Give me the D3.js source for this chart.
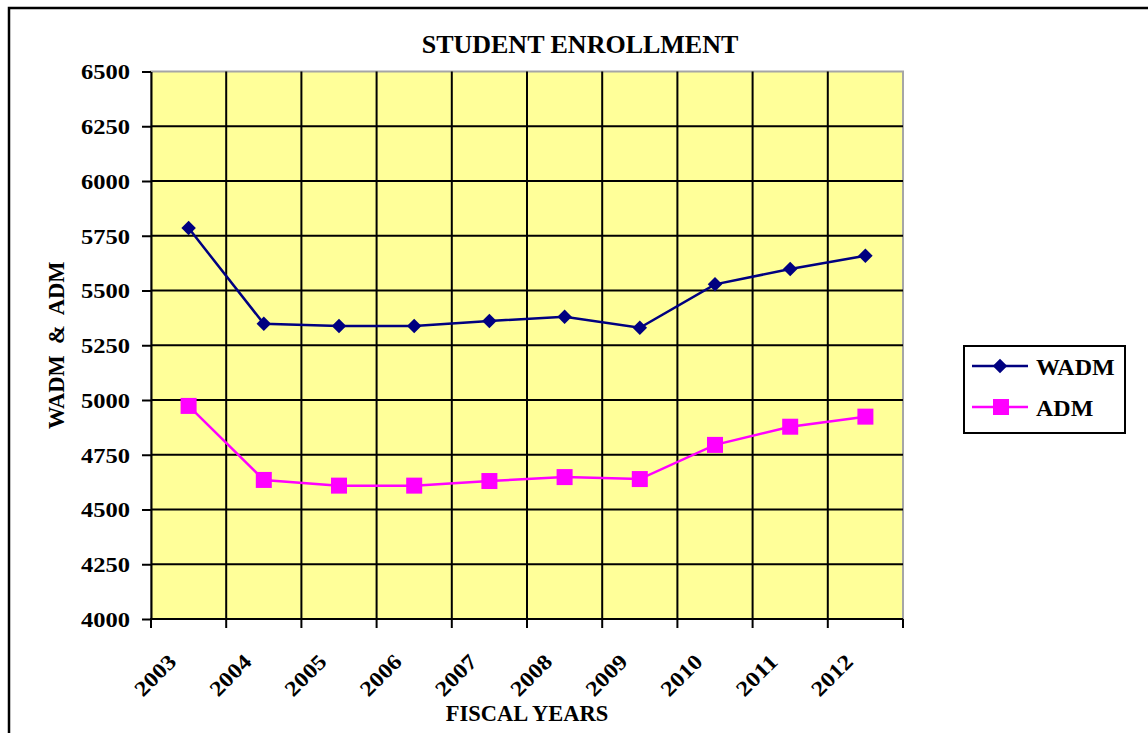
<!DOCTYPE html>
<html>
<head>
<meta charset="utf-8">
<script src="https://cdn.jsdelivr.net/npm/d3@7"></script>
<style>
	body { margin: 0; background: #fff; }
	svg { display: block; }
	text { font-family: "Liberation Serif", "Times New Roman", serif; font-weight: bold; fill: #000; }
</style>
</head>
<body>
<svg id="vis" width="1148" height="733"></svg>
<script>
var YEARS = ["2003", "2004", "2005", "2006", "2007", "2008", "2009", "2010", "2011", "2012"];
var WADM = [5785, 5348, 5338, 5338, 5361, 5380, 5330, 5528, 5598, 5659];
var ADM = [4973, 4635, 4609, 4609, 4630, 4648, 4639, 4795, 4878, 4924];
var Y_TICKS = [4000, 4250, 4500, 4750, 5000, 5250, 5500, 5750, 6000, 6250, 6500];

function whenDocumentLoaded(action) {
	if (document.readyState === "loading") {
		document.addEventListener("DOMContentLoaded", action);
	} else {
		action();
	}
}

whenDocumentLoaded(() => {
	var svg = d3.select("#vis");
	var left = 151, right = 903, top = 71.5, bottom = 619;

	var x = d3.scaleBand().domain(YEARS).range([left, right]).padding(0);
	var y = d3.scaleLinear().domain([4000, 6500]).range([bottom, top]);
	var cx = d => x(d) + x.bandwidth() / 2;

	// outer chart frame (runs off the page at right and bottom)
	svg.append("rect")
	   .attr("x", 9).attr("y", 8)
	   .attr("width", 1300).attr("height", 900)
	   .attr("fill", "#fff").attr("stroke", "#000").attr("stroke-width", 2.5);

	// plot area
	svg.append("rect")
	   .attr("x", left).attr("y", top)
	   .attr("width", right - left).attr("height", bottom - top)
	   .attr("fill", "#FFFF99").attr("stroke", "#a6a6a6").attr("stroke-width", 2);

	// horizontal grid
	svg.append("g").selectAll("line")
	   .data(Y_TICKS.slice(1, -1))
	   .enter().append("line")
	   .attr("x1", left).attr("x2", right)
	   .attr("y1", d => y(d)).attr("y2", d => y(d))
	   .attr("stroke", "#000").attr("stroke-width", 2);

	// vertical grid at category boundaries
	svg.append("g").selectAll("line")
	   .data(YEARS.slice(1))
	   .enter().append("line")
	   .attr("x1", d => x(d)).attr("x2", d => x(d))
	   .attr("y1", top).attr("y2", bottom)
	   .attr("stroke", "#000").attr("stroke-width", 2);

	// y axis
	var yAxis = svg.append("g")
	   .attr("transform", "translate(" + left + ",0)")
	   .call(d3.axisLeft(y).tickValues(Y_TICKS).tickFormat(d3.format("d"))
	           .tickSize(9).tickSizeOuter(0).tickPadding(12));
	yAxis.attr("font-family", null).attr("font-size", null);
	yAxis.select(".domain").attr("stroke", "#000").attr("stroke-width", 2);
	yAxis.selectAll(".tick line").attr("stroke", "#000").attr("stroke-width", 2);
	yAxis.selectAll(".tick text")
	   .style("font-size", "21.5px")
	   .attr("dy", "0.34em")
	   .attr("textLength", 49).attr("lengthAdjust", "spacingAndGlyphs");

	// x axis line and boundary ticks
	var xAxis = svg.append("g");
	xAxis.append("line")
	   .attr("x1", left - 1).attr("x2", right)
	   .attr("y1", bottom).attr("y2", bottom)
	   .attr("stroke", "#000").attr("stroke-width", 2);
	xAxis.selectAll(".xtick")
	   .data(YEARS.concat(["end"]))
	   .enter().append("line")
	   .attr("class", "xtick")
	   .attr("x1", d => d === "end" ? right : x(d))
	   .attr("x2", d => d === "end" ? right : x(d))
	   .attr("y1", bottom).attr("y2", bottom + 9)
	   .attr("stroke", "#000").attr("stroke-width", 2);
	xAxis.selectAll(".xlabel")
	   .data(YEARS)
	   .enter().append("text")
	   .attr("class", "xlabel")
	   .attr("transform", d => "translate(" + (cx(d) - 11) + "," + (bottom + 44) + ") rotate(-45)")
	   .attr("text-anchor", "end")
	   .style("font-size", "21.5px")
	   .attr("textLength", 49).attr("lengthAdjust", "spacingAndGlyphs")
	   .text(d => d);

	// lines
	var line = d3.line().x((d, i) => cx(YEARS[i])).y(d => y(d));
	svg.append("path").datum(WADM)
	   .attr("d", line).attr("fill", "none")
	   .attr("stroke", "#000080").attr("stroke-width", 2.5);
	svg.append("path").datum(ADM)
	   .attr("d", line).attr("fill", "none")
	   .attr("stroke", "#FF00FF").attr("stroke-width", 2.5);

	var diamond = d3.symbol().type(d3.symbolSquare).size(105);
	svg.append("g").selectAll("path")
	   .data(WADM)
	   .enter().append("path")
	   .attr("d", diamond)
	   .attr("transform", (d, i) => "translate(" + cx(YEARS[i]) + "," + y(d) + ") rotate(45)")
	   .attr("fill", "#000080");

	svg.append("g").selectAll("rect")
	   .data(ADM)
	   .enter().append("rect")
	   .attr("x", (d, i) => cx(YEARS[i]) - 8)
	   .attr("y", d => y(d) - 8)
	   .attr("width", 16).attr("height", 16)
	   .attr("fill", "#FF00FF");

	// titles
	svg.append("text")
	   .attr("x", 580).attr("y", 53)
	   .attr("text-anchor", "middle")
	   .style("font-size", "26px")
	   .text("STUDENT ENROLLMENT");
	svg.append("text")
	   .attr("x", (left + right) / 2).attr("y", 721)
	   .attr("text-anchor", "middle")
	   .style("font-size", "22.5px")
	   .text("FISCAL YEARS");
	svg.append("text")
	   .attr("transform", "translate(64," + ((top + bottom) / 2) + ") rotate(-90)")
	   .attr("text-anchor", "middle")
	   .style("font-size", "22.5px")
	   .style("white-space", "pre")
	   .text("WADM  &  ADM");

	// legend
	var legend = svg.append("g");
	legend.append("rect")
	   .attr("x", 964).attr("y", 346)
	   .attr("width", 161).attr("height", 87)
	   .attr("fill", "#fff").attr("stroke", "#000").attr("stroke-width", 2);
	var items = [
		{ name: "WADM", color: "#000080", y: 366 },
		{ name: "ADM", color: "#FF00FF", y: 407 }
	];
	legend.selectAll(".lline")
	   .data(items)
	   .enter().append("line")
	   .attr("x1", 972).attr("x2", 1028)
	   .attr("y1", d => d.y).attr("y2", d => d.y)
	   .attr("stroke", d => d.color).attr("stroke-width", 2.5);
	legend.append("path")
	   .attr("d", diamond)
	   .attr("transform", "translate(1000,366) rotate(45)")
	   .attr("fill", "#000080");
	legend.append("rect")
	   .attr("x", 993).attr("y", 399)
	   .attr("width", 16).attr("height", 16)
	   .attr("fill", "#FF00FF");
	legend.selectAll(".ltext")
	   .data(items)
	   .enter().append("text")
	   .attr("x", 1036)
	   .attr("y", d => d.y + 9)
	   .style("font-size", "24px")
	   .text(d => d.name);
});
</script>
</body>
</html>
